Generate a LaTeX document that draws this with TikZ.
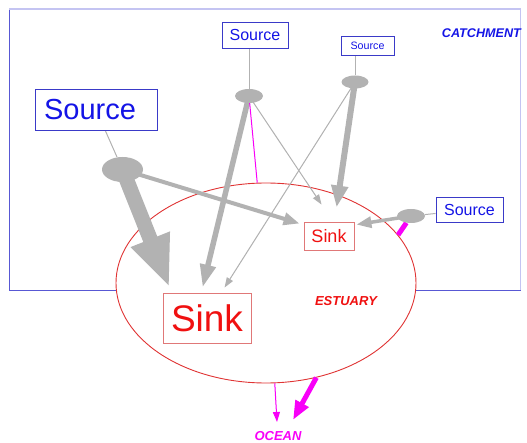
\documentclass[tikz,border=0pt]{standalone}
\usepackage{fontspec}
\setmainfont{Liberation Sans}
\usetikzlibrary{arrows.meta,shapes.geometric,calc}
\definecolor{grayc}{HTML}{B2B2B2}
\definecolor{srcblue}{HTML}{1414E6}
\definecolor{boxblue}{HTML}{3A3AC8}
\definecolor{catblue}{HTML}{5858D4}
\definecolor{catlight}{HTML}{C4C4F2}
\definecolor{sinkred}{HTML}{F01010}
\definecolor{sinkbox}{HTML}{E07878}
\definecolor{estred}{HTML}{E03434}
\definecolor{mag}{HTML}{F800F8}
\pgfdeclarelayer{bg}
\pgfdeclarelayer{est}
\pgfdeclarelayer{arr}
\pgfsetlayers{bg,est,arr,main}
\tikzset{
  srcbox/.style={draw=boxblue, line width=0.9pt, text=srcblue, inner sep=0pt, fill=white},
  sinkbox/.style={draw=sinkbox, line width=0.9pt, text=sinkred, inner sep=0pt, fill=white},
  blob/.style={ellipse, fill=grayc, inner sep=0pt},
  gline/.style={draw=grayc, line width=1pt},
  garrow/.style={draw=grayc, fill=grayc, line width=#1},
  lab/.style={inner sep=0pt, font=\bfseries\itshape},
}
\begin{document}
\begin{tikzpicture}[x=1pt,y=-1pt]
\useasboundingbox (0,0) rectangle (527,443);
% catchment frame
\node[inner sep=0pt, minimum width=511pt, minimum height=281pt] (catch) at (265,149.5) {};
\begin{pgfonlayer}{bg}
\draw[catblue, line width=1pt] (catch.north west) -- (catch.south west) -- (catch.south east);
\draw[catlight, line width=1.5pt] (catch.south east) -- (catch.north east) -- (catch.north west);
\end{pgfonlayer}
\node[lab, text=srcblue, anchor=east, font=\fontsize{12.6}{13}\selectfont\bfseries\itshape] (catchlab) at (521,33) {CATCHMENT};
% estuary
\begin{pgfonlayer}{est}
\node[ellipse, draw=estred, line width=0.9pt, fill=white, minimum width=300pt, minimum height=200pt, inner sep=0pt] (est) at (266,283) {};
\end{pgfonlayer}
\node[lab, text=sinkred, font=\fontsize{13}{14}\selectfont\bfseries\itshape] (estlab) at (346,301) {ESTUARY};
\node[lab, text=mag, font=\fontsize{13}{14}\selectfont\bfseries\itshape] (ocean) at (278,436) {OCEAN};
% sources
\node[srcbox, minimum width=122pt, minimum height=41pt, font=\fontsize{29}{30}\selectfont] (srcA) at (96,109.5) {Source\kern12pt\relax};
\node[srcbox, minimum width=66pt, minimum height=26pt, font=\fontsize{16}{17}\selectfont] (srcB) at (255,35) {Source};
\node[srcbox, minimum width=53pt, minimum height=19pt, font=\fontsize{10.7}{11}\selectfont] (srcC) at (367.5,45.5) {Source};
\node[srcbox, minimum width=67pt, minimum height=25pt, font=\fontsize{16}{17}\selectfont] (srcD) at (469.5,210) {Source};
% sinks
\node[sinkbox, minimum width=50pt, minimum height=28pt, font=\fontsize{18}{19}\selectfont] (sinkS) at (329,236) {Sink};
\node[sinkbox, minimum width=88pt, minimum height=50pt, font=\fontsize{37}{38}\selectfont] (sinkB) at (207,318) {Sink};
% blobs
\node[blob, minimum width=41pt, minimum height=25pt] (bA) at (122.5,169.5) {};
\node[blob, minimum width=28pt, minimum height=14pt] (bB) at (249,96) {};
\node[blob, minimum width=27pt, minimum height=13pt] (bC) at (355,82) {};
\node[blob, minimum width=28pt, minimum height=14pt] (bD) at (411,216) {};
% connectors
\begin{pgfonlayer}{arr}
\draw[gline] (srcA) -- (bA);
\draw[gline] (srcB.south -| bB) -- (bB);
\draw[gline] (srcC.south -| bC) -- (bC);
\draw[gline] (srcD) -- (bD);
% gray arrows
\draw[garrow=15pt, -{Triangle[length=52pt,width=38pt]}] (bA.center) -- ($(sinkB.north west)+(7,-5)$);
\draw[garrow=4pt, -{Triangle[length=16pt,width=12pt]}] (bA.center) -- ($(sinkS.north west)+(-4,2)$);
\draw[garrow=5.5pt, -{Triangle[length=23pt,width=15pt]}] (bB.center) -- ($(sinkB.north west)+(40,-5)$);
\draw[garrow=1pt, -{Triangle[length=10pt,width=7pt]}] (bB.center) -- ($(sinkS.north west)+(18,-17)$);
\draw[garrow=6pt, -{Triangle[length=22pt,width=16pt]}] (bC.center) -- ($(sinkS.north west)+(33,-14)$);
\draw[garrow=1pt, -{Triangle[length=10pt,width=7pt]}] (bC.center) -- ($(sinkB.north west)+(62,-5)$);
\draw[garrow=3.5pt, -{Triangle[length=15pt,width=11pt]}] (bD.center) -- ($(sinkS.north east)+(2,3)$);
% magenta
\draw[mag, line width=1pt] (bB) -- (est.95);
\draw[mag, line width=5pt] (bD) -- (est.20);
\coordinate (oc1) at (277,422);
\coordinate (oc2) at (293,420);
\draw[mag, fill=mag, line width=1pt, -{Triangle[length=10pt,width=7pt]}] (est.-85) -- (oc1);
\draw[mag, fill=mag, line width=5pt, -{Triangle[length=19pt,width=14pt]}] (est.-62) -- (oc2);
\end{pgfonlayer}
\end{tikzpicture}
\end{document}
